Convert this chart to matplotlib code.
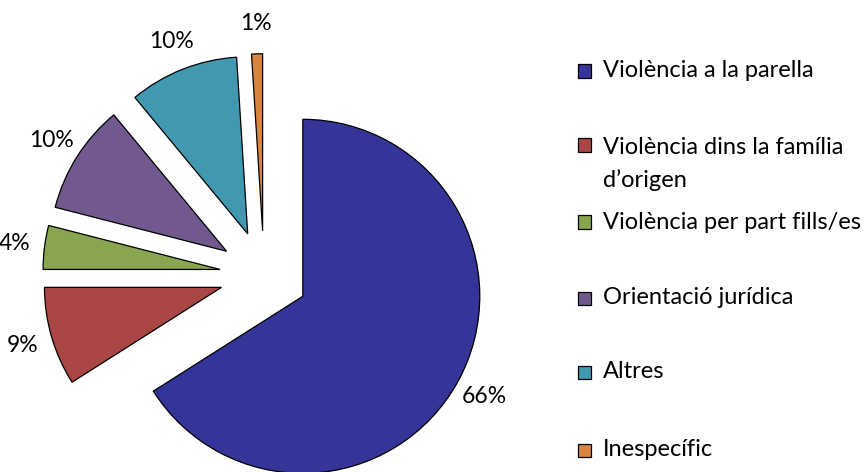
import matplotlib

matplotlib.use("Agg")
import matplotlib.pyplot as plt
from matplotlib.patches import Rectangle

plt.rcParams["font.family"] = ["Lato", "DejaVu Sans"]

categories = [
    "Violència a la parella",
    "Violència dins la família\nd\u2019origen",
    "Violència per part fills/es",
    "Orientació jurídica",
    "Altres",
    "Inespecífic",
]
shares = [66, 9, 4, 10, 10, 1]
colors = ["#343499", "#AA4643", "#89A54E", "#71588F", "#4198AF", "#DB843D"]

# layout (pixels of the 866x472 output)
W, H = 866, 472
CX, CY, R = 264, 275, 177
legend_y = [71, 145, 222, 298, 372, 450]
legend_x = 578
box = 13
fs = 17

fig = plt.figure(figsize=(W / 100, H / 100), dpi=100)
ax = fig.add_axes([0, 0, 1, 1])
wedges, texts = ax.pie(
    shares,
    labels=[f"{v}%" for v in shares],
    colors=colors,
    startangle=90,
    counterclock=False,
    explode=[0.25] * len(shares),
    labeldistance=1.17,
    wedgeprops=dict(edgecolor="black", linewidth=0.9),
    textprops=dict(fontsize=fs - 0.5, color="black"),
)
for t in texts:
    t.set_ha("center")
    t.set_va("center")
ax.set_xlim(-CX / R, (W - CX) / R)
ax.set_ylim(-(H - CY) / R, CY / R)

for y, label, c in zip(legend_y, categories, colors):
    fig.patches.append(Rectangle((legend_x / W, 1 - (y + box / 2) / H), box / W, box / H,
                                 transform=fig.transFigure, facecolor=c,
                                 edgecolor="black", linewidth=0.9))
    two_lines = "\n" in label
    fig.text((legend_x + box + 12) / W, 1 - (y - 8 if two_lines else y) / H, label,
             fontsize=fs, va="top" if two_lines else "center", ha="left",
             linespacing=1.6, transform=fig.transFigure)

fig.savefig("out.png", dpi=100)
